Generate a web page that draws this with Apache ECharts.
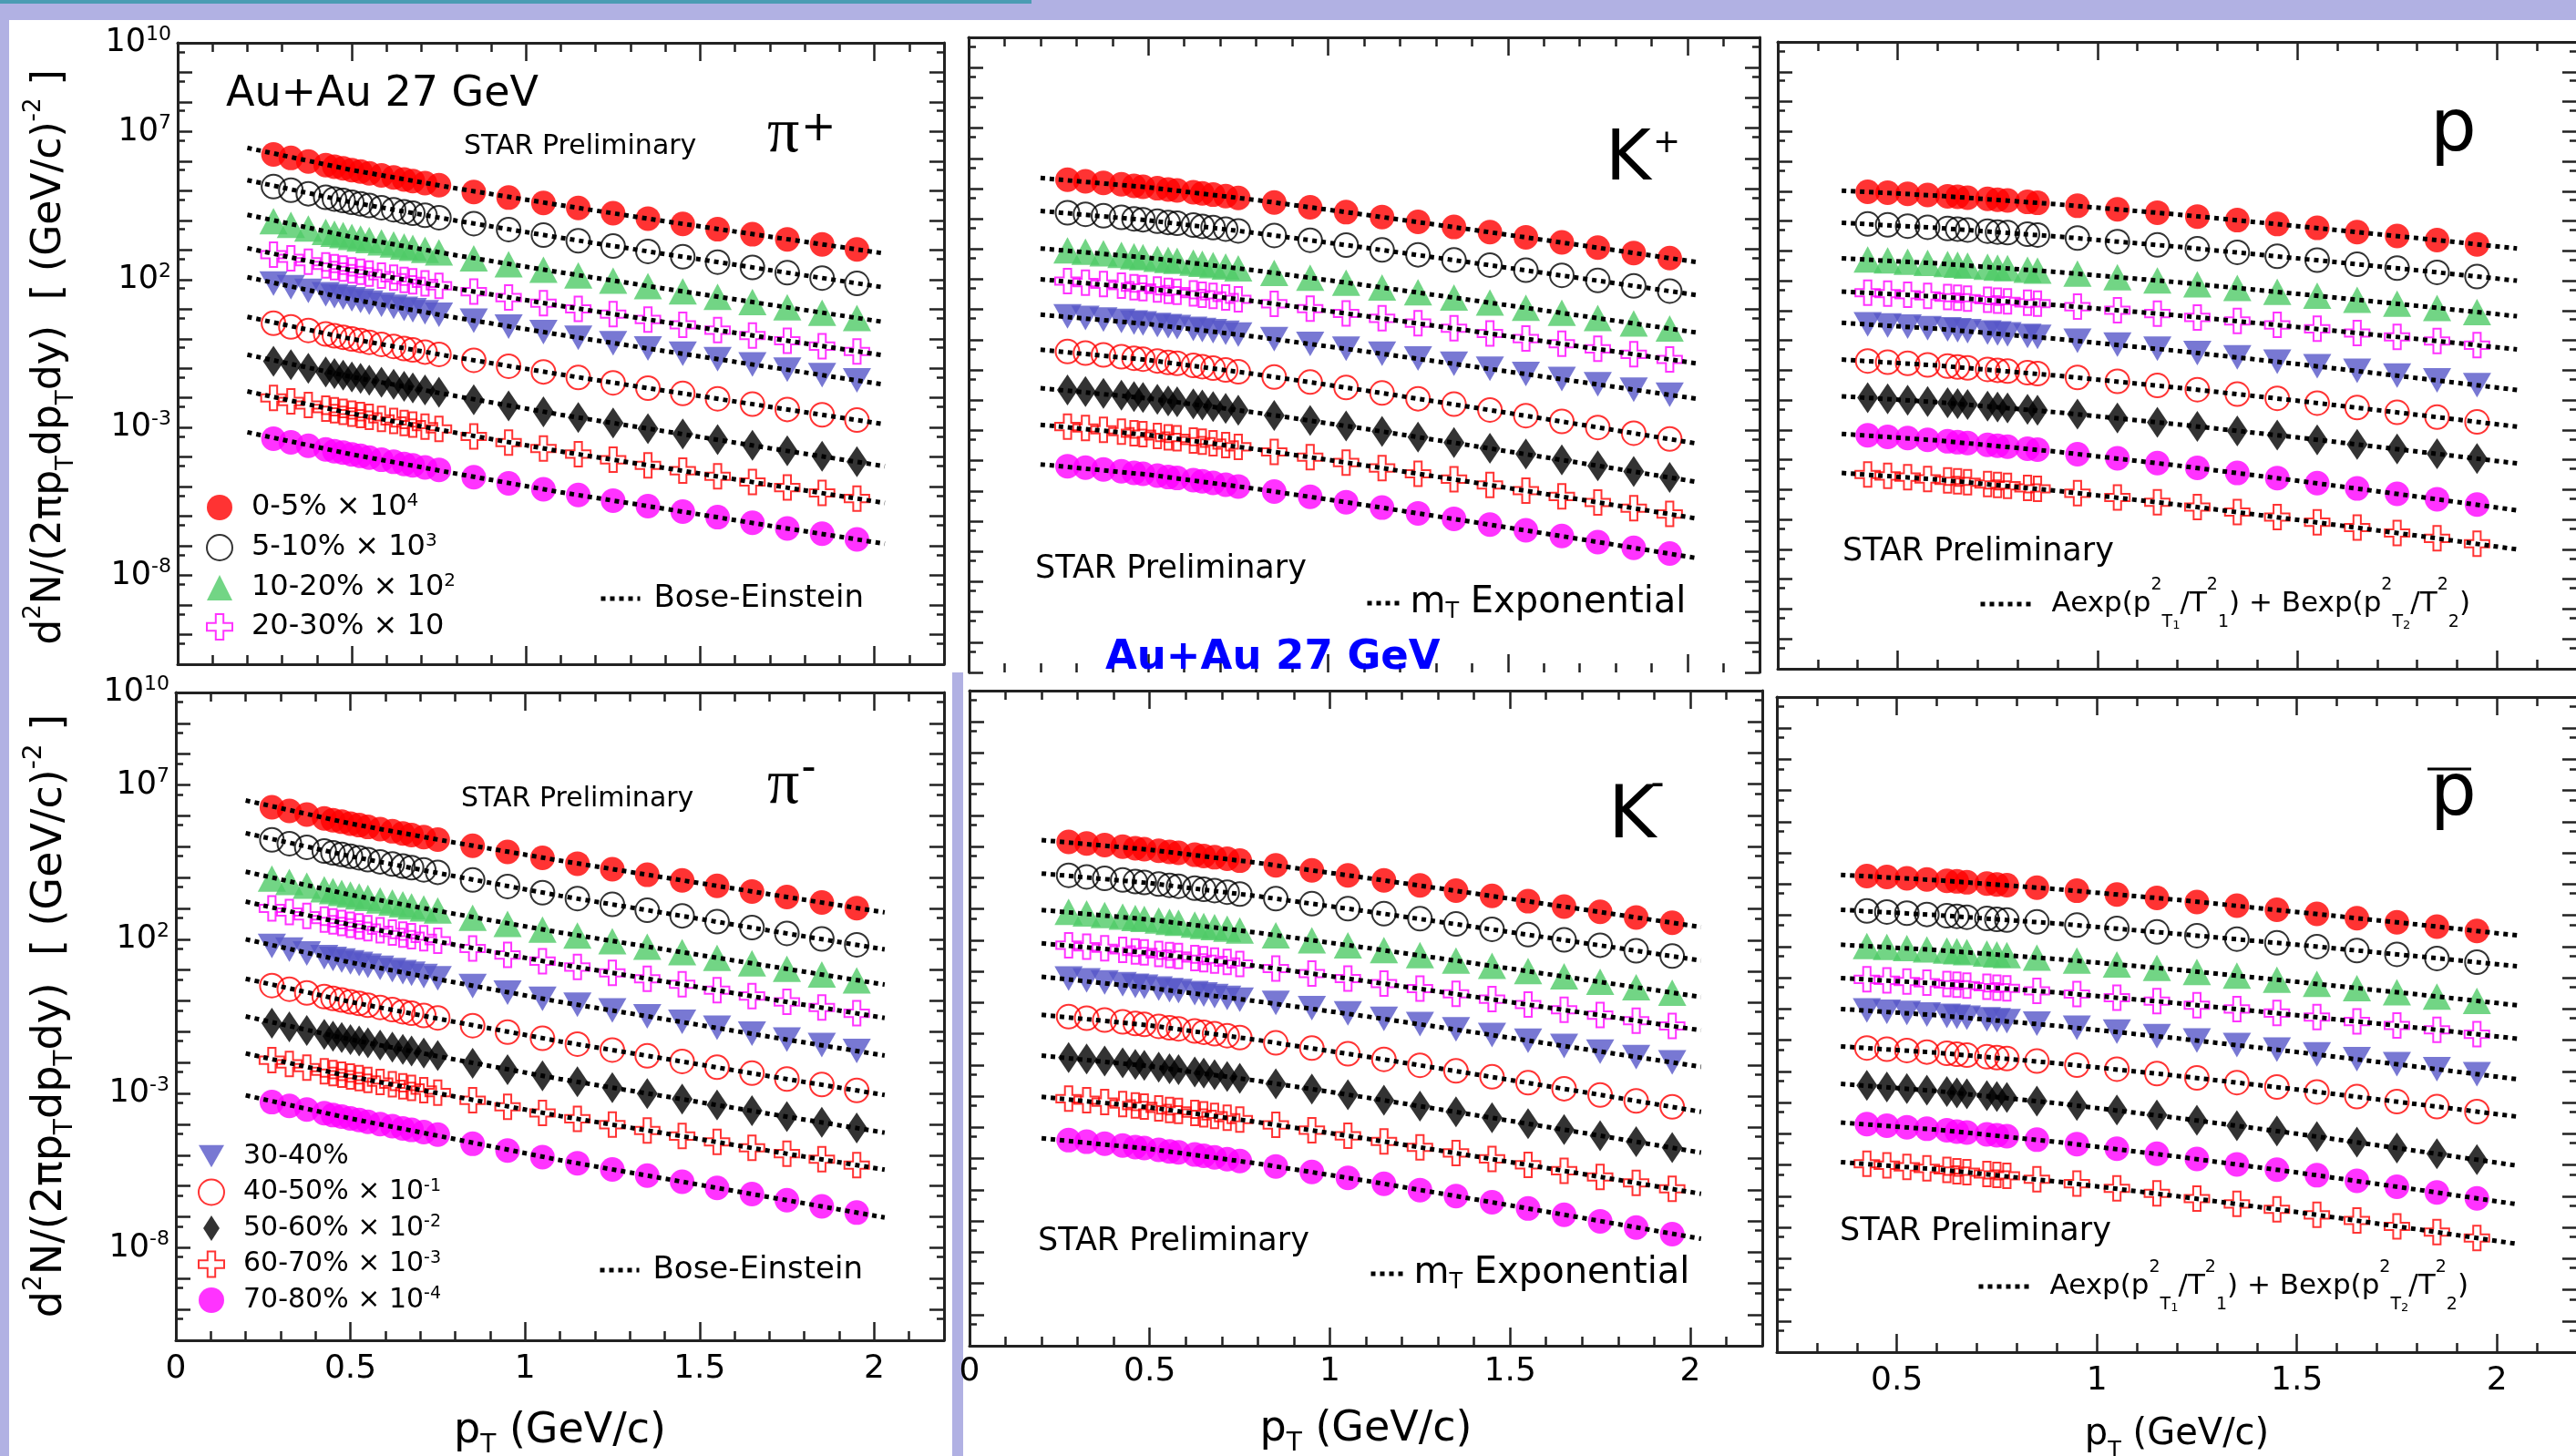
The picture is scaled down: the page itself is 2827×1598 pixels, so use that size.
<!DOCTYPE html>
<html>
<head>
<meta charset="utf-8">
<script src="https://cdn.jsdelivr.net/npm/echarts@6/dist/echarts.min.js"></script>
<style>
html, body { margin: 0; padding: 0; background: #fff; }
#chart { width: 2827px; height: 1598px; }
</style>
</head>
<body>
<div id="chart"></div>
<script>
// Identified-particle pT spectra, Au+Au 27 GeV, nine centrality classes per species.

const FONT = '"DejaVu Sans", "Liberation Sans", Arial, sans-serif';
const SERIF = '"Liberation Serif", "DejaVu Serif", serif';
const FRAME = '#222';
const LAV = '#b1b1e3';

// ---- pT bin centres (GeV/c) ----
const ptPion = [0.275,0.325,0.375,0.425,0.45,0.475,0.5,0.525,0.55,0.585,0.62,0.65,0.675,0.71,0.75,0.85,0.95,1.05,1.15,1.25,1.35,1.45,1.55,1.65,1.75,1.85,1.95];
const ptKaon = [0.275,0.325,0.375,0.425,0.46,0.485,0.525,0.555,0.58,0.625,0.65,0.68,0.715,0.75,0.85,0.95,1.05,1.15,1.25,1.35,1.45,1.55,1.65,1.75,1.85,1.95];
const ptProton = [0.425,0.475,0.525,0.575,0.625,0.65,0.675,0.725,0.75,0.775,0.825,0.85,0.95,1.05,1.15,1.25,1.35,1.45,1.55,1.65,1.75,1.85,1.95];
const ptAntiProton = [0.425,0.475,0.525,0.575,0.625,0.65,0.675,0.725,0.75,0.775,0.85,0.95,1.05,1.15,1.25,1.35,1.45,1.55,1.65,1.75,1.85,1.95];
// pT nodes of the fit curves
const fitPtMeson = [0.2,0.5,0.8,1.1,1.4,1.7,2.03];
const fitPtBaryon = [0.36,0.6,0.9,1.2,1.5,1.8,2.05];

// ---- tick values ----
const xMajorTicks = [0,0.5,1,1.5,2];
const xMinorTicks = [0.1,0.2,0.3,0.4,0.6,0.7,0.8,0.9,1.1,1.2,1.3,1.4,1.6,1.7,1.8,1.9,2.1];
const yDecadePowers = [-11,-10,-9,-8,-7,-6,-5,-4,-3,-2,-1,0,1,2,3,4,5,6,7,8,9,10];
const yHalfDecadePowers = [-11,-10,-9,-8,-7,-6,-5,-4,-3,-2,-1,0,1,2,3,4,5,6,7,8,9]; // ticks at 5 x 10^k
const yLabelPowers = [-8,-3,2,7,10];

// ---- centrality classes and the scale factor exponent applied to each ----
const centralities = ['0-5%','5-10%','10-20%','20-30%','30-40%','40-50%','50-60%','60-70%','70-80%'];
const scalePowers = [4,3,2,1,0,-1,-2,-3,-4];

// ---- log10 of the scaled yield d2N/(2pi pT dpT dy) ----
// pi+
const lgPiPlus_0_5   = [6.23,6.11,5.99,5.87,5.81,5.76,5.70,5.65,5.59,5.52,5.45,5.38,5.33,5.26,5.19,4.96,4.77,4.59,4.42,4.24,4.06,3.88,3.70,3.53,3.36,3.19,3.02];
const lgPiPlus_5_10  = [5.14,5.02,4.90,4.78,4.72,4.67,4.61,4.56,4.50,4.43,4.36,4.29,4.24,4.17,4.09,3.89,3.69,3.50,3.31,3.13,2.95,2.77,2.59,2.41,2.23,2.05,1.87];
const lgPiPlus_10_20 = [3.97,3.85,3.73,3.61,3.55,3.50,3.44,3.39,3.33,3.26,3.19,3.12,3.07,3.00,2.92,2.72,2.52,2.33,2.14,1.96,1.78,1.60,1.42,1.24,1.06,0.88,0.70];
const lgPiPlus_20_30 = [2.84,2.72,2.60,2.48,2.42,2.37,2.31,2.26,2.20,2.13,2.06,1.99,1.94,1.87,1.79,1.59,1.39,1.20,1.01,0.83,0.65,0.47,0.29,0.11,-0.07,-0.25,-0.43];
const lgPiPlus_30_40 = [1.86,1.74,1.62,1.50,1.44,1.39,1.33,1.28,1.22,1.15,1.08,1.01,0.96,0.89,0.81,0.61,0.41,0.22,0.03,-0.15,-0.33,-0.51,-0.69,-0.87,-1.05,-1.23,-1.41];
const lgPiPlus_40_50 = [0.52,0.40,0.28,0.16,0.10,0.05,-0.01,-0.06,-0.12,-0.19,-0.26,-0.33,-0.38,-0.45,-0.53,-0.73,-0.93,-1.12,-1.31,-1.49,-1.67,-1.85,-2.03,-2.21,-2.39,-2.57,-2.75];
const lgPiPlus_50_60 = [-0.76,-0.88,-1.00,-1.12,-1.18,-1.23,-1.29,-1.34,-1.40,-1.47,-1.54,-1.61,-1.66,-1.73,-1.81,-2.06,-2.27,-2.47,-2.66,-2.85,-3.04,-3.22,-3.41,-3.60,-3.79,-3.97,-4.16];
const lgPiPlus_60_70 = [-2.00,-2.12,-2.24,-2.36,-2.42,-2.47,-2.53,-2.58,-2.64,-2.71,-2.78,-2.85,-2.90,-2.97,-3.05,-3.30,-3.51,-3.71,-3.90,-4.09,-4.28,-4.46,-4.65,-4.84,-5.03,-5.21,-5.40];
const lgPiPlus_70_80 = [-3.38,-3.50,-3.62,-3.74,-3.80,-3.85,-3.91,-3.96,-4.02,-4.09,-4.16,-4.23,-4.28,-4.35,-4.43,-4.68,-4.89,-5.09,-5.28,-5.47,-5.66,-5.84,-6.03,-6.22,-6.41,-6.59,-6.78];
const fitPiPlus_0_5   = [6.45,5.70,5.08,4.51,3.97,3.45,2.88];
const fitPiPlus_5_10  = [5.36,4.61,3.99,3.41,2.86,2.32,1.73];
const fitPiPlus_10_20 = [4.19,3.44,2.82,2.24,1.69,1.15,0.56];
const fitPiPlus_20_30 = [3.06,2.31,1.69,1.11,0.56,0.02,-0.57];
const fitPiPlus_30_40 = [2.08,1.33,0.71,0.13,-0.42,-0.96,-1.55];
const fitPiPlus_40_50 = [0.74,-0.01,-0.63,-1.21,-1.76,-2.30,-2.89];
const fitPiPlus_50_60 = [-0.54,-1.29,-1.94,-2.57,-3.13,-3.70,-4.31];
const fitPiPlus_60_70 = [-1.78,-2.53,-3.18,-3.81,-4.37,-4.94,-5.55];
const fitPiPlus_70_80 = [-3.16,-3.91,-4.56,-5.19,-5.75,-6.32,-6.93];

// pi-
const lgPiMinus_0_5   = [6.28,6.16,6.04,5.92,5.86,5.81,5.75,5.70,5.64,5.57,5.50,5.43,5.38,5.31,5.23,5.03,4.83,4.64,4.45,4.27,4.09,3.91,3.73,3.55,3.37,3.19,3.01];
const lgPiMinus_5_10  = [5.22,5.10,4.98,4.86,4.80,4.75,4.69,4.64,4.58,4.51,4.44,4.37,4.32,4.25,4.17,3.92,3.71,3.51,3.32,3.13,2.94,2.76,2.57,2.38,2.19,2.01,1.82];
const lgPiMinus_10_20 = [3.97,3.86,3.74,3.62,3.56,3.50,3.45,3.39,3.34,3.26,3.19,3.13,3.07,3.00,2.93,2.70,2.50,2.31,2.12,1.94,1.76,1.58,1.40,1.22,1.04,0.86,0.67];
const lgPiMinus_20_30 = [3.00,2.88,2.76,2.64,2.58,2.53,2.47,2.42,2.36,2.29,2.22,2.15,2.10,2.03,1.95,1.70,1.49,1.29,1.10,0.91,0.72,0.54,0.35,0.16,-0.03,-0.21,-0.40];
const lgPiMinus_30_40 = [1.78,1.66,1.54,1.42,1.36,1.31,1.25,1.20,1.14,1.07,1.00,0.93,0.88,0.81,0.73,0.48,0.27,0.07,-0.12,-0.31,-0.50,-0.68,-0.87,-1.06,-1.25,-1.43,-1.62];
const lgPiMinus_40_50 = [0.50,0.38,0.26,0.14,0.08,0.03,-0.03,-0.08,-0.14,-0.21,-0.28,-0.35,-0.40,-0.47,-0.55,-0.80,-1.01,-1.21,-1.40,-1.59,-1.78,-1.96,-2.15,-2.34,-2.53,-2.71,-2.90];
const lgPiMinus_50_60 = [-0.72,-0.84,-0.96,-1.08,-1.14,-1.19,-1.25,-1.30,-1.36,-1.43,-1.50,-1.57,-1.62,-1.69,-1.77,-2.02,-2.23,-2.43,-2.62,-2.81,-3.00,-3.18,-3.37,-3.56,-3.75,-3.93,-4.12];
const lgPiMinus_60_70 = [-1.92,-2.04,-2.16,-2.28,-2.34,-2.39,-2.45,-2.50,-2.56,-2.63,-2.70,-2.77,-2.82,-2.89,-2.97,-3.22,-3.43,-3.63,-3.82,-4.01,-4.20,-4.38,-4.57,-4.76,-4.95,-5.13,-5.32];
const lgPiMinus_70_80 = [-3.28,-3.40,-3.52,-3.64,-3.70,-3.75,-3.81,-3.86,-3.92,-3.99,-4.06,-4.13,-4.18,-4.25,-4.33,-4.63,-4.85,-5.06,-5.26,-5.46,-5.66,-5.86,-6.06,-6.26,-6.46,-6.66,-6.86];
const fitPiMinus_0_5   = [6.50,5.75,5.13,4.55,4.00,3.46,2.87];
const fitPiMinus_5_10  = [5.44,4.69,4.04,3.41,2.85,2.28,1.67];
const fitPiMinus_10_20 = [4.19,3.44,2.82,2.22,1.67,1.13,0.53];
const fitPiMinus_20_30 = [3.22,2.47,1.82,1.19,0.63,0.06,-0.55];
const fitPiMinus_30_40 = [2.00,1.25,0.60,-0.03,-0.59,-1.16,-1.77];
const fitPiMinus_40_50 = [0.72,-0.03,-0.68,-1.31,-1.87,-2.44,-3.05];
const fitPiMinus_50_60 = [-0.50,-1.25,-1.90,-2.53,-3.09,-3.66,-4.27];
const fitPiMinus_60_70 = [-1.70,-2.45,-3.10,-3.73,-4.29,-4.86,-5.47];
const fitPiMinus_70_80 = [-3.06,-3.81,-4.48,-5.16,-5.76,-6.36,-7.02];

// K+
const lgKPlus_0_5   = [5.29,5.24,5.19,5.14,5.09,5.06,5.01,4.97,4.94,4.88,4.84,4.80,4.75,4.69,4.54,4.38,4.22,4.06,3.90,3.73,3.56,3.39,3.22,3.05,2.87,2.70];
const lgKPlus_5_10  = [4.20,4.15,4.10,4.05,4.00,3.97,3.92,3.88,3.85,3.79,3.75,3.71,3.66,3.60,3.45,3.29,3.13,2.97,2.81,2.64,2.47,2.30,2.13,1.96,1.78,1.61];
const lgKPlus_10_20 = [2.96,2.91,2.86,2.81,2.76,2.73,2.68,2.64,2.61,2.55,2.51,2.47,2.42,2.36,2.21,2.05,1.89,1.73,1.57,1.40,1.23,1.06,0.89,0.72,0.54,0.37];
const lgKPlus_20_30 = [1.94,1.89,1.84,1.79,1.74,1.71,1.66,1.62,1.59,1.53,1.49,1.45,1.40,1.34,1.19,1.03,0.87,0.71,0.55,0.38,0.21,0.04,-0.13,-0.30,-0.48,-0.65];
const lgKPlus_30_40 = [0.77,0.72,0.67,0.62,0.57,0.54,0.49,0.45,0.42,0.36,0.32,0.28,0.23,0.17,0.02,-0.14,-0.30,-0.46,-0.62,-0.79,-0.96,-1.13,-1.30,-1.47,-1.65,-1.82];
const lgKPlus_40_50 = [-0.39,-0.44,-0.50,-0.56,-0.61,-0.64,-0.70,-0.75,-0.78,-0.85,-0.89,-0.94,-1.00,-1.06,-1.23,-1.40,-1.58,-1.76,-1.95,-2.13,-2.32,-2.51,-2.70,-2.90,-3.09,-3.28];
const lgKPlus_50_60 = [-1.66,-1.71,-1.77,-1.83,-1.88,-1.91,-1.97,-2.02,-2.05,-2.12,-2.16,-2.21,-2.27,-2.33,-2.50,-2.67,-2.85,-3.03,-3.22,-3.40,-3.59,-3.78,-3.97,-4.17,-4.36,-4.55];
const lgKPlus_60_70 = [-2.87,-2.92,-2.98,-3.04,-3.09,-3.12,-3.18,-3.23,-3.26,-3.33,-3.37,-3.42,-3.48,-3.54,-3.71,-3.88,-4.06,-4.24,-4.43,-4.61,-4.80,-4.99,-5.18,-5.38,-5.57,-5.76];
const lgKPlus_70_80 = [-4.18,-4.23,-4.29,-4.35,-4.40,-4.43,-4.49,-4.54,-4.57,-4.64,-4.68,-4.73,-4.79,-4.85,-5.02,-5.19,-5.37,-5.55,-5.74,-5.92,-6.11,-6.30,-6.49,-6.69,-6.88,-7.07];
const fitKPlus_0_5   = [5.35,5.04,4.62,4.14,3.64,3.13,2.56];
const fitKPlus_5_10  = [4.26,3.95,3.53,3.05,2.55,2.04,1.47];
const fitKPlus_10_20 = [3.02,2.71,2.29,1.81,1.31,0.80,0.23];
const fitKPlus_20_30 = [2.00,1.69,1.27,0.79,0.29,-0.22,-0.79];
const fitKPlus_30_40 = [0.83,0.52,0.10,-0.38,-0.88,-1.39,-1.96];
const fitKPlus_40_50 = [-0.33,-0.67,-1.14,-1.67,-2.23,-2.80,-3.44];
const fitKPlus_50_60 = [-1.60,-1.94,-2.41,-2.94,-3.50,-4.07,-4.71];
const fitKPlus_60_70 = [-2.81,-3.15,-3.62,-4.15,-4.71,-5.28,-5.92];
const fitKPlus_70_80 = [-4.12,-4.46,-4.93,-5.46,-6.02,-6.59,-7.23];

// K-
const lgKMinus_0_5   = [5.15,5.10,5.05,5.00,4.95,4.92,4.87,4.83,4.80,4.74,4.70,4.66,4.61,4.55,4.40,4.24,4.08,3.92,3.76,3.59,3.42,3.25,3.08,2.91,2.73,2.56];
const lgKMinus_5_10  = [4.08,4.03,3.98,3.93,3.88,3.85,3.80,3.76,3.73,3.67,3.63,3.59,3.54,3.48,3.33,3.17,3.01,2.85,2.69,2.52,2.35,2.18,2.01,1.84,1.66,1.49];
const lgKMinus_10_20 = [2.91,2.86,2.81,2.76,2.71,2.68,2.63,2.59,2.56,2.50,2.46,2.42,2.37,2.31,2.16,2.00,1.84,1.68,1.52,1.35,1.18,1.01,0.84,0.67,0.49,0.32];
const lgKMinus_20_30 = [1.84,1.79,1.74,1.69,1.64,1.61,1.56,1.52,1.49,1.43,1.39,1.35,1.30,1.24,1.09,0.93,0.77,0.61,0.45,0.28,0.11,-0.06,-0.23,-0.40,-0.58,-0.75];
const lgKMinus_30_40 = [0.77,0.71,0.65,0.59,0.54,0.51,0.45,0.40,0.37,0.30,0.26,0.21,0.15,0.09,-0.01,-0.18,-0.35,-0.52,-0.69,-0.86,-1.04,-1.22,-1.39,-1.57,-1.75,-1.92];
const lgKMinus_40_50 = [-0.45,-0.50,-0.56,-0.62,-0.67,-0.70,-0.76,-0.81,-0.84,-0.91,-0.95,-1.00,-1.06,-1.12,-1.29,-1.46,-1.64,-1.82,-2.01,-2.19,-2.38,-2.57,-2.76,-2.96,-3.15,-3.34];
const lgKMinus_50_60 = [-1.76,-1.81,-1.87,-1.93,-1.98,-2.01,-2.07,-2.12,-2.15,-2.22,-2.26,-2.31,-2.37,-2.43,-2.60,-2.77,-2.95,-3.13,-3.32,-3.50,-3.69,-3.88,-4.07,-4.27,-4.46,-4.65];
const lgKMinus_60_70 = [-3.08,-3.13,-3.19,-3.25,-3.30,-3.33,-3.39,-3.44,-3.47,-3.54,-3.58,-3.63,-3.69,-3.75,-3.92,-4.09,-4.27,-4.45,-4.64,-4.82,-5.01,-5.20,-5.39,-5.59,-5.78,-5.97];
const lgKMinus_70_80 = [-4.41,-4.46,-4.52,-4.58,-4.63,-4.66,-4.72,-4.77,-4.80,-4.87,-4.91,-4.96,-5.02,-5.08,-5.25,-5.43,-5.62,-5.81,-6.01,-6.20,-6.40,-6.60,-6.80,-7.01,-7.21,-7.42];
const fitKMinus_0_5   = [5.21,4.90,4.48,4.00,3.50,2.99,2.42];
const fitKMinus_5_10  = [4.14,3.83,3.41,2.93,2.43,1.92,1.35];
const fitKMinus_10_20 = [2.97,2.66,2.24,1.76,1.26,0.75,0.18];
const fitKMinus_20_30 = [1.90,1.59,1.17,0.69,0.19,-0.32,-0.89];
const fitKMinus_30_40 = [0.83,0.47,0.04,-0.44,-0.95,-1.48,-2.06];
const fitKMinus_40_50 = [-0.39,-0.73,-1.20,-1.73,-2.29,-2.86,-3.50];
const fitKMinus_50_60 = [-1.70,-2.04,-2.51,-3.04,-3.60,-4.17,-4.81];
const fitKMinus_60_70 = [-3.02,-3.36,-3.83,-4.36,-4.92,-5.49,-6.13];
const fitKMinus_70_80 = [-4.35,-4.69,-5.16,-5.71,-6.30,-6.90,-7.57];

// p
const lgP_0_5   = [4.98,4.95,4.91,4.87,4.83,4.81,4.78,4.74,4.71,4.69,4.64,4.61,4.51,4.39,4.28,4.15,4.03,3.90,3.77,3.63,3.50,3.36,3.22];
const lgP_5_10  = [3.90,3.87,3.83,3.79,3.75,3.73,3.70,3.66,3.63,3.61,3.56,3.53,3.43,3.31,3.20,3.07,2.95,2.82,2.69,2.55,2.42,2.28,2.14];
const lgP_10_20 = [2.71,2.68,2.64,2.60,2.56,2.54,2.51,2.47,2.44,2.42,2.37,2.34,2.24,2.12,2.01,1.88,1.76,1.63,1.50,1.36,1.23,1.09,0.95];
const lgP_20_30 = [1.60,1.57,1.53,1.49,1.45,1.43,1.40,1.36,1.33,1.31,1.26,1.23,1.13,1.01,0.90,0.77,0.65,0.52,0.39,0.25,0.12,-0.02,-0.16];
const lgP_30_40 = [0.54,0.50,0.46,0.41,0.37,0.34,0.31,0.26,0.23,0.20,0.15,0.12,-0.01,-0.14,-0.28,-0.42,-0.57,-0.71,-0.87,-1.02,-1.18,-1.34,-1.50];
const lgP_40_50 = [-0.69,-0.73,-0.77,-0.82,-0.86,-0.89,-0.92,-0.97,-1.00,-1.03,-1.08,-1.11,-1.24,-1.37,-1.51,-1.65,-1.80,-1.94,-2.10,-2.25,-2.41,-2.57,-2.73];
const lgP_50_60 = [-1.92,-1.96,-2.00,-2.05,-2.09,-2.12,-2.15,-2.20,-2.23,-2.26,-2.31,-2.34,-2.47,-2.60,-2.74,-2.88,-3.03,-3.17,-3.33,-3.48,-3.64,-3.80,-3.96];
const lgP_60_70 = [-4.49,-4.54,-4.58,-4.64,-4.69,-4.72,-4.75,-4.81,-4.84,-4.87,-4.94,-4.97,-5.12,-5.26,-5.42,-5.58,-5.75,-5.92,-6.09,-6.27,-6.45,-6.63,-6.81];
const lgP_70_80 = [-3.18,-3.23,-3.27,-3.33,-3.38,-3.41,-3.44,-3.50,-3.53,-3.56,-3.63,-3.66,-3.81,-3.95,-4.11,-4.27,-4.44,-4.61,-4.78,-4.96,-5.14,-5.32,-5.50];
const fitP_0_5   = [5.02,4.85,4.56,4.22,3.83,3.43,3.08];
const fitP_5_10  = [3.94,3.77,3.48,3.14,2.75,2.35,2.00];
const fitP_10_20 = [2.75,2.58,2.29,1.95,1.56,1.16,0.81];
const fitP_20_30 = [1.64,1.47,1.18,0.84,0.45,0.05,-0.30];
const fitP_30_40 = [0.59,0.39,0.05,-0.35,-0.79,-1.26,-1.66];
const fitP_40_50 = [-0.64,-0.84,-1.18,-1.58,-2.02,-2.49,-2.89];
const fitP_50_60 = [-1.87,-2.07,-2.41,-2.81,-3.25,-3.72,-4.12];
const fitP_60_70 = [-4.44,-4.66,-5.04,-5.50,-6.01,-6.54,-7.00];
const fitP_70_80 = [-3.13,-3.35,-3.73,-4.19,-4.70,-5.23,-5.69];

// anti-proton
const lgPbar_0_5   = [4.26,4.23,4.19,4.15,4.11,4.09,4.06,4.02,3.99,3.97,3.89,3.79,3.67,3.56,3.43,3.31,3.18,3.05,2.91,2.78,2.64,2.50];
const lgPbar_5_10  = [3.14,3.11,3.07,3.03,2.99,2.97,2.94,2.90,2.87,2.85,2.79,2.69,2.58,2.47,2.35,2.24,2.12,2.00,1.87,1.75,1.62,1.50];
const lgPbar_10_20 = [2.02,1.99,1.95,1.91,1.87,1.85,1.82,1.78,1.75,1.73,1.65,1.55,1.43,1.32,1.19,1.07,0.94,0.81,0.67,0.54,0.40,0.26];
const lgPbar_20_30 = [0.95,0.92,0.88,0.84,0.80,0.78,0.75,0.71,0.68,0.66,0.58,0.48,0.36,0.25,0.12,0.00,-0.13,-0.26,-0.40,-0.53,-0.67,-0.81];
const lgPbar_30_40 = [-0.05,-0.09,-0.13,-0.18,-0.22,-0.25,-0.28,-0.33,-0.36,-0.39,-0.47,-0.60,-0.73,-0.87,-1.01,-1.16,-1.30,-1.46,-1.61,-1.77,-1.93,-2.09];
const lgPbar_40_50 = [-1.25,-1.29,-1.33,-1.38,-1.42,-1.45,-1.48,-1.53,-1.56,-1.59,-1.67,-1.80,-1.93,-2.07,-2.21,-2.36,-2.50,-2.66,-2.81,-2.97,-3.13,-3.29];
const lgPbar_50_60 = [-2.45,-2.50,-2.55,-2.60,-2.65,-2.69,-2.72,-2.78,-2.81,-2.84,-2.95,-3.09,-3.24,-3.40,-3.57,-3.74,-3.91,-4.09,-4.27,-4.46,-4.64,-4.83];
const lgPbar_60_70 = [-4.96,-5.01,-5.06,-5.11,-5.16,-5.20,-5.23,-5.29,-5.32,-5.35,-5.46,-5.60,-5.75,-5.91,-6.08,-6.25,-6.42,-6.60,-6.78,-6.97,-7.15,-7.34];
const lgPbar_70_80 = [-3.69,-3.74,-3.79,-3.84,-3.89,-3.93,-3.96,-4.02,-4.05,-4.08,-4.19,-4.33,-4.48,-4.64,-4.81,-4.98,-5.15,-5.33,-5.51,-5.70,-5.88,-6.07];
const fitPbar_0_5   = [4.30,4.13,3.84,3.50,3.11,2.71,2.36];
const fitPbar_5_10  = [3.18,3.01,2.74,2.41,2.06,1.69,1.37];
const fitPbar_10_20 = [2.06,1.89,1.60,1.26,0.87,0.47,0.12];
const fitPbar_20_30 = [0.99,0.82,0.53,0.19,-0.20,-0.60,-0.95];
const fitPbar_30_40 = [0.00,-0.20,-0.54,-0.94,-1.38,-1.85,-2.25];
const fitPbar_40_50 = [-1.20,-1.40,-1.74,-2.14,-2.58,-3.05,-3.45];
const fitPbar_50_60 = [-2.40,-2.63,-3.02,-3.49,-4.00,-4.55,-5.02];
const fitPbar_60_70 = [-4.91,-5.14,-5.53,-6.00,-6.51,-7.06,-7.53];
const fitPbar_70_80 = [-3.64,-3.87,-4.26,-4.73,-5.24,-5.79,-6.26];

// ---- fit function names ----
const FIT_BE = 'Bose-Einstein';
const FIT_MT = 'mT Exponential';
const FIT_DBL = 'Aexp(pT2/T12) + Bexp(pT2/T22)';

// ---- panel layout ----
const panels = [
  { box: [195, 47, 841, 682], xMin: 0, pt: ptPion, fitPt: fitPtMeson, fitName: FIT_BE, yLabels: true, xLabels: false,
    yields: [lgPiPlus_0_5, lgPiPlus_5_10, lgPiPlus_10_20, lgPiPlus_20_30, lgPiPlus_30_40, lgPiPlus_40_50, lgPiPlus_50_60, lgPiPlus_60_70, lgPiPlus_70_80],
    fits: [fitPiPlus_0_5, fitPiPlus_5_10, fitPiPlus_10_20, fitPiPlus_20_30, fitPiPlus_30_40, fitPiPlus_40_50, fitPiPlus_50_60, fitPiPlus_60_70, fitPiPlus_70_80] },
  { box: [1063, 41, 868, 697], xMin: 0, pt: ptKaon, fitPt: fitPtMeson, fitName: FIT_MT, yLabels: false, xLabels: false, hideBottomLine: true,
    yields: [lgKPlus_0_5, lgKPlus_5_10, lgKPlus_10_20, lgKPlus_20_30, lgKPlus_30_40, lgKPlus_40_50, lgKPlus_50_60, lgKPlus_60_70, lgKPlus_70_80],
    fits: [fitKPlus_0_5, fitKPlus_5_10, fitKPlus_10_20, fitKPlus_20_30, fitKPlus_30_40, fitKPlus_40_50, fitKPlus_50_60, fitKPlus_60_70, fitKPlus_70_80] },
  { box: [1951, 46, 877, 688], xMin: 0.2, pt: ptProton, fitPt: fitPtBaryon, fitName: FIT_DBL, yLabels: false, xLabels: false,
    yields: [lgP_0_5, lgP_5_10, lgP_10_20, lgP_20_30, lgP_30_40, lgP_40_50, lgP_50_60, lgP_60_70, lgP_70_80],
    fits: [fitP_0_5, fitP_5_10, fitP_10_20, fitP_20_30, fitP_30_40, fitP_40_50, fitP_50_60, fitP_60_70, fitP_70_80] },
  { box: [193, 760, 843, 711], xMin: 0, pt: ptPion, fitPt: fitPtMeson, fitName: FIT_BE, yLabels: true, xLabels: true, labelMargin: 14, nameGap: 70, nameSize: 46,
    yields: [lgPiMinus_0_5, lgPiMinus_5_10, lgPiMinus_10_20, lgPiMinus_20_30, lgPiMinus_30_40, lgPiMinus_40_50, lgPiMinus_50_60, lgPiMinus_60_70, lgPiMinus_70_80],
    fits: [fitPiMinus_0_5, fitPiMinus_5_10, fitPiMinus_10_20, fitPiMinus_20_30, fitPiMinus_30_40, fitPiMinus_40_50, fitPiMinus_50_60, fitPiMinus_60_70, fitPiMinus_70_80] },
  { box: [1064, 758, 870, 719], xMin: 0, pt: ptKaon, fitPt: fitPtMeson, fitName: FIT_MT, yLabels: false, xLabels: true, labelMargin: 11, nameGap: 62, nameSize: 46,
    yields: [lgKMinus_0_5, lgKMinus_5_10, lgKMinus_10_20, lgKMinus_20_30, lgKMinus_30_40, lgKMinus_40_50, lgKMinus_50_60, lgKMinus_60_70, lgKMinus_70_80],
    fits: [fitKMinus_0_5, fitKMinus_5_10, fitKMinus_10_20, fitKMinus_20_30, fitKMinus_30_40, fitKMinus_40_50, fitKMinus_50_60, fitKMinus_60_70, fitKMinus_70_80] },
  { box: [1950, 765, 878, 719], xMin: 0.2, pt: ptAntiProton, fitPt: fitPtBaryon, fitName: FIT_DBL, yLabels: false, xLabels: true, labelMargin: 14, nameGap: 61, nameSize: 40,
    yields: [lgPbar_0_5, lgPbar_5_10, lgPbar_10_20, lgPbar_20_30, lgPbar_30_40, lgPbar_40_50, lgPbar_50_60, lgPbar_60_70, lgPbar_70_80],
    fits: [fitPbar_0_5, fitPbar_5_10, fitPbar_10_20, fitPbar_20_30, fitPbar_30_40, fitPbar_40_50, fitPbar_50_60, fitPbar_60_70, fitPbar_70_80] }
];

// ---- marker styles, one per centrality class ----
const OPEN = 'rgba(0,0,0,0)';
const CROSS = 'path://M35,0H65V35H100V65H65V100H35V65H0V35H35Z';
const markerStyles = [
  { symbol: 'circle', symbolSize: 27, itemStyle: { color: '#ff0000' } },
  { symbol: 'circle', symbolSize: 26, itemStyle: { color: OPEN, borderColor: '#000', borderWidth: 2 } },
  { symbol: 'triangle', symbolSize: [31, 29], itemStyle: { color: '#4fcb66' } },
  { symbol: CROSS, symbolSize: 27, itemStyle: { color: OPEN, borderColor: '#ff00ff', borderWidth: 2 } },
  { symbol: 'triangle', symbolRotate: 180, symbolSize: [31, 27], itemStyle: { color: '#5656c8' } },
  { symbol: 'circle', symbolSize: 26, itemStyle: { color: OPEN, borderColor: '#ff0000', borderWidth: 2 } },
  { symbol: 'diamond', symbolSize: [23, 34], itemStyle: { color: '#000' } },
  { symbol: CROSS, symbolSize: 27, itemStyle: { color: OPEN, borderColor: '#ff0000', borderWidth: 2 } },
  { symbol: 'circle', symbolSize: 27, itemStyle: { color: '#ff00ff' } }
];
// legend icons where the plain symbol would lose its orientation or aspect
const legendIcons = {
  '30-40%': 'path://M0,0H100L50,88Z',
  '50-60%': 'path://M50,0L82,50L50,100L18,50Z'
};

const pow10 = k => Math.pow(10, k);
const yDecadeValues = yDecadePowers.map(pow10);
const yHalfValues = yHalfDecadePowers.map(k => 5 * pow10(k));
const yLabelValues = yLabelPowers.map(pow10);

const tickLine = { color: FRAME, width: 2.5 };
const frameLine = { show: true, onZero: false, lineStyle: { color: FRAME, width: 3 } };
const noLine = { show: false, onZero: false };

const option = {
  backgroundColor: '#fff',
  animation: false,
  grid: [], xAxis: [], yAxis: [], series: [], legend: [], graphic: []
};

panels.forEach((p, gi) => {
  option.grid.push({ left: p.box[0], top: p.box[1], width: p.box[2], height: p.box[3],
    containLabel: false, outerBoundsMode: 'none', show: false });

  const xBase = { type: 'value', gridIndex: gi, min: p.xMin, max: 2.2, splitLine: { show: false } };
  const majors = xMajorTicks.filter(v => v >= p.xMin);
  const minors = xMinorTicks.filter(v => v > p.xMin);
  const xMajorTick = { show: true, inside: true, length: 20, lineStyle: tickLine, customValues: majors };
  const xMinorTick = { show: true, inside: true, length: 10, lineStyle: tickLine, customValues: minors };

  const bottom = Object.assign({}, xBase, {
    position: 'bottom',
    axisLine: p.hideBottomLine ? noLine : frameLine,
    axisTick: xMajorTick,
    axisLabel: p.xLabels ? { show: true, customValues: majors, margin: p.labelMargin, fontSize: 36,
      fontFamily: FONT, color: '#000', formatter: v => String(v) } : { show: false }
  });
  if (p.xLabels) {
    bottom.name = '{n|p}{d|T}{n| (GeV/c)}';
    bottom.nameLocation = 'middle';
    bottom.nameGap = p.nameGap;
    bottom.nameTextStyle = {
      rich: {
        n: { fontSize: p.nameSize, lineHeight: 60, fontFamily: FONT, color: '#000' },
        d: { fontSize: Math.round(p.nameSize * 0.6), lineHeight: 22, verticalAlign: 'bottom', fontFamily: FONT, color: '#000' }
      }
    };
  }
  option.xAxis.push(bottom);
  option.xAxis.push(Object.assign({}, xBase, { position: 'bottom', axisLine: noLine, axisTick: xMinorTick, axisLabel: { show: false } }));
  option.xAxis.push(Object.assign({}, xBase, { position: 'top', axisLine: frameLine, axisTick: xMajorTick, axisLabel: { show: false } }));
  option.xAxis.push(Object.assign({}, xBase, { position: 'top', axisLine: noLine, axisTick: xMinorTick, axisLabel: { show: false } }));

  const yBase = { type: 'log', logBase: 10, gridIndex: gi, min: 1e-11, max: 1e10, splitLine: { show: false } };
  const yMajorTick = { show: true, inside: true, length: 16, lineStyle: tickLine, customValues: yDecadeValues };
  const yMinorTick = { show: true, inside: true, length: 8, lineStyle: tickLine, customValues: yHalfValues };
  option.yAxis.push(Object.assign({}, yBase, {
    position: 'left', axisLine: frameLine, axisTick: yMajorTick,
    axisLabel: p.yLabels ? {
      show: true, customValues: yLabelValues, margin: 7, fontFamily: FONT, color: '#000',
      formatter: v => '{b|10}{e|' + Math.round(Math.log10(v)) + '}',
      rich: {
        b: { fontSize: 35, lineHeight: 40, fontFamily: FONT, color: '#000' },
        e: { fontSize: 22, lineHeight: 30, verticalAlign: 'top', fontFamily: FONT, color: '#000' }
      }
    } : { show: false }
  }));
  option.yAxis.push(Object.assign({}, yBase, { position: 'left', axisLine: noLine, axisTick: yMinorTick, axisLabel: { show: false } }));
  option.yAxis.push(Object.assign({}, yBase, { position: 'right', axisLine: frameLine, axisTick: yMajorTick, axisLabel: { show: false } }));
  option.yAxis.push(Object.assign({}, yBase, { position: 'right', axisLine: noLine, axisTick: yMinorTick, axisLabel: { show: false } }));

  p.yields.forEach((lg, ci) => {
    const st = markerStyles[ci];
    option.series.push({
      type: 'scatter', name: centralities[ci], xAxisIndex: gi * 4, yAxisIndex: gi * 4, z: 2,
      symbol: st.symbol, symbolSize: st.symbolSize, symbolRotate: st.symbolRotate || 0,
      itemStyle: st.itemStyle, emphasis: { disabled: true },
      data: p.pt.map((x, i) => [x, pow10(lg[i])])
    });
  });
  p.fits.forEach(lg => {
    option.series.push({
      type: 'line', name: p.fitName, xAxisIndex: gi * 4, yAxisIndex: gi * 4, z: 4,
      symbol: 'none', showSymbol: false, smooth: false, silent: true,
      itemStyle: { color: '#000' },
      lineStyle: { color: '#000', width: 5, type: [5, 5], cap: 'butt' },
      data: p.fitPt.map((x, i) => [x, pow10(lg[i])])
    });
  });
});

// ---- legends ----
function centralityLabel(name) {
  const k = scalePowers[centralities.indexOf(name)];
  if (k === 0) return '{n|' + name + '}';
  if (k === 1) return '{n|' + name + ' \u00d7 10}';
  return '{n|' + name + ' \u00d7 10}{s|' + k + '}';
}
function centralityLegend(names, left, top, size, gap) {
  return {
    data: names.map(n => legendIcons[n] ? { name: n, icon: legendIcons[n] } : n),
    orient: 'vertical', left: left, top: top, padding: 0, itemGap: gap,
    itemWidth: 28, itemHeight: 28, selectedMode: false, formatter: centralityLabel, symbolKeepAspect: true,
    textStyle: {
      color: '#000', fontFamily: FONT,
      rich: {
        n: { fontSize: size, lineHeight: size + 2, padding: [0, 0, 0, 16], fontFamily: FONT, color: '#000' },
        s: { fontSize: Math.round(size * 0.62), lineHeight: 14, verticalAlign: 'top', fontFamily: FONT, color: '#000' }
      }
    }
  };
}
option.legend.push(centralityLegend(centralities.slice(0, 4), 226, 540, 32, 11));
option.legend.push(centralityLegend(centralities.slice(4), 217, 1254, 30, 8.5));

function fitLabel(name) {
  if (name === FIT_MT) return '{f|m}{d|T}{n| Exponential}';
  if (name === FIT_DBL) return '{f|Aexp(p}{u|2}{d|T}{e|1}{n|/T}{u|2}{d|1}{n|) + Bexp(p}{u|2}{d|T}{e|2}{n|/T}{u|2}{d|2}{n|)}';
  return '{f|' + name + '}';
}
function fitLegend(name, left, top, iconWidth, size, lineH, padLeft) {
  return {
    data: [name], orient: 'vertical', left: left, top: top, padding: 0,
    itemWidth: iconWidth, itemHeight: 14, selectedMode: false, formatter: fitLabel,
    itemStyle: { opacity: 0 },
    lineStyle: { color: '#000', width: 5, type: [5, 5], opacity: 1 },
    textStyle: {
      color: '#000', fontFamily: FONT,
      rich: {
        f: { fontSize: size, lineHeight: lineH, padding: [0, 0, 0, padLeft], fontFamily: FONT, color: '#000' },
        n: { fontSize: size, lineHeight: lineH, fontFamily: FONT, color: '#000' },
        u: { fontSize: Math.round(size * 0.6), lineHeight: 28, verticalAlign: 'top', fontFamily: FONT, color: '#000' },
        d: { fontSize: Math.round(size * 0.6), lineHeight: 18, verticalAlign: 'bottom', fontFamily: FONT, color: '#000' },
        e: { fontSize: Math.round(size * 0.42), lineHeight: 2, verticalAlign: 'bottom', fontFamily: FONT, color: '#000' }
      }
    }
  };
}
option.legend.push(fitLegend(FIT_BE, 657, 640, 43, 34, 36, 10));
option.legend.push(fitLegend(FIT_BE, 656, 1377, 43, 34, 36, 10));
option.legend.push(fitLegend(FIT_MT, 1498, 642, 37, 40, 44, 5));
option.legend.push(fitLegend(FIT_MT, 1502, 1378, 37, 40, 44, 5));
option.legend.push(fitLegend(FIT_DBL, 2171, 633, 57, 31, 60, 16));
option.legend.push(fitLegend(FIT_DBL, 2169, 1382, 57, 31, 60, 16));

// ---- page decoration and annotations ----
function txt(text, x, y, size, extra) {
  return { type: 'text', x: x, y: y, z: 50, silent: true,
    style: Object.assign({ text: text, fontFamily: FONT, fontSize: size, fill: '#000', align: 'left', verticalAlign: 'middle' }, extra || {}) };
}
const yTitle = '{n|d}{s|2}{n|N/(2\u03c0p}{d|T}{n|dp}{d|T}{n|dy)  [ (GeV/c)}{s|-2}{n| ]}';
function yTitleRich(size) {
  return {
    n: { fontSize: size, lineHeight: 62, fontFamily: FONT, color: '#000' },
    s: { fontSize: Math.round(size * 0.6), lineHeight: 30, verticalAlign: 'top', fontFamily: FONT, color: '#000' },
    d: { fontSize: Math.round(size * 0.6), lineHeight: 26, verticalAlign: 'bottom', fontFamily: FONT, color: '#000' }
  };
}

option.graphic = [
  { type: 'rect', silent: true, z: 0, shape: { x: 0, y: 0, width: 2827, height: 22 }, style: { fill: LAV } },
  { type: 'rect', silent: true, z: 1, shape: { x: 0, y: 0, width: 1132, height: 4 }, style: { fill: '#4b9cb3' } },
  { type: 'rect', silent: true, z: 0, shape: { x: 0, y: 0, width: 10, height: 1598 }, style: { fill: LAV } },
  { type: 'rect', silent: true, z: 0, shape: { x: 1045, y: 738, width: 12, height: 860 }, style: { fill: LAV } },

  txt('Au+Au 27 GeV', 248, 104, 46),
  txt('STAR Preliminary', 509, 161.5, 30),
  txt('STAR Preliminary', 506, 877.5, 30),
  txt('STAR Preliminary', 1136, 625, 35),
  txt('STAR Preliminary', 1139, 1363, 35),
  txt('STAR Preliminary', 2022, 606, 35),
  txt('STAR Preliminary', 2019, 1352, 35),

  txt('\u03c0', 842, 148, 70, { fontFamily: SERIF }),
  txt('+', 879, 142.5, 46),
  txt('\u03c0', 842, 863, 70, { fontFamily: SERIF }),
  txt('\u2013', 880, 844, 30, { fontWeight: 'bold' }),
  txt('K', 1762, 177, 76),
  txt('+', 1814, 158, 36),
  txt('K', 1765, 898, 80),
  txt('\u2013', 1812, 862, 28, { fontWeight: 'bold' }),
  txt('p', 2667, 144, 80),
  txt('p', 2667, 873, 80),
  { type: 'line', silent: true, z: 50, shape: { x1: 2664, y1: 844, x2: 2712, y2: 844 }, style: { stroke: '#000', lineWidth: 3 } },

  txt('Au+Au 27 GeV', 1213, 722, 45, { fill: '#0000ff', fontWeight: 'bold' }),

  { type: 'text', x: 55, y: 392, rotation: Math.PI / 2, z: 50, silent: true,
    style: { text: yTitle, rich: yTitleRich(44), align: 'center', verticalAlign: 'middle', fontFamily: FONT, fill: '#000' } },
  { type: 'text', x: 55, y: 1115, rotation: Math.PI / 2, z: 50, silent: true,
    style: { text: yTitle, rich: yTitleRich(46), align: 'center', verticalAlign: 'middle', fontFamily: FONT, fill: '#000' } }
];

const chart = echarts.init(document.getElementById('chart'), null, { renderer: 'canvas' });
chart.setOption(option);
</script>
</body>
</html>
